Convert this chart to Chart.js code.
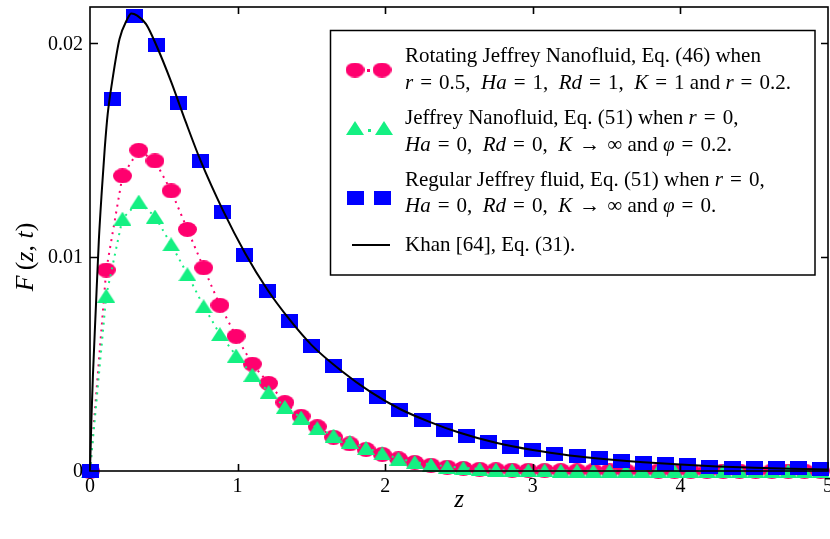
<!DOCTYPE html>
<html>
<head>
<meta charset="utf-8">
<script src="https://cdn.jsdelivr.net/npm/chart.js@4.4.1/dist/chart.umd.min.js"></script>
<style>
  html, body { margin: 0; padding: 0; background: #fff; }
  #wrap { width: 830px; height: 539px; position: relative; }
</style>
</head>
<body>
<div id="wrap"><canvas id="chart" width="830" height="539"></canvas></div>
<script>
// Values
const zNano = [0, 0.11, 0.22, 0.33, 0.44, 0.55, 0.66, 0.77, 0.88, 0.99, 1.1, 1.21, 1.32, 1.43, 1.54, 1.65,
    1.76, 1.87, 1.98, 2.09, 2.2, 2.31, 2.42, 2.53, 2.64, 2.75, 2.86, 2.97, 3.08, 3.19, 3.3, 3.41,
    3.52, 3.63, 3.74, 3.85, 3.96, 4.07, 4.18, 4.29, 4.4, 4.51, 4.62, 4.73, 4.84, 4.95];

const rotatingJeffrey = [0, 0.0094, 0.0138, 0.0150, 0.0145, 0.0131, 0.0113, 0.0095, 0.00775, 0.0063, 0.0050,
    0.0041, 0.0032, 0.00256, 0.00207, 0.00158, 0.00127, 0.00101, 0.00078, 0.00057, 0.0004, 0.00027,
    0.00018, 0.00012, 0.00008, 0.00006, 0.00004, 0.00003, 0.00002, 0.00002, 0.00001, 0.00001, 0.00001,
    0.00001, 0.00001, 0, 0, 0, 0, 0, 0, 0, 0, 0, 0, 0];

const jeffreyNano = [0, 0.0082, 0.0118, 0.0126, 0.0119, 0.0106, 0.0092, 0.0077, 0.0064, 0.0054, 0.0045,
    0.0037, 0.0030, 0.0025, 0.0020, 0.00166, 0.00137, 0.00108, 0.00082, 0.00058, 0.00042, 0.0003,
    0.00021, 0.00015, 0.0001, 0.00007, 0.00005, 0.00004, 0.00003, 0.00002, 0.00002, 0.00001, 0.00001,
    0.00001, 0.00001, 0.00001, 0, 0, 0, 0, 0, 0, 0, 0, 0, 0];

const zRegular = [0, 0.15, 0.3, 0.45, 0.6, 0.75, 0.9, 1.05, 1.2, 1.35, 1.5, 1.65, 1.8, 1.95, 2.1, 2.25,
    2.4, 2.55, 2.7, 2.85, 3.0, 3.15, 3.3, 3.45, 3.6, 3.75, 3.9, 4.05, 4.2, 4.35, 4.5, 4.65, 4.8, 4.95];

const regularJeffrey = [0, 0.0174, 0.0213, 0.0199, 0.0172, 0.0145, 0.0121, 0.0101, 0.0084, 0.0070, 0.00585,
    0.0049, 0.0040, 0.00345, 0.00285, 0.00237, 0.00194, 0.00163, 0.00135, 0.00112, 0.00096, 0.0008,
    0.0007, 0.00059, 0.00047, 0.00039, 0.00031, 0.00028, 0.0002, 0.00016, 0.00016, 0.00014, 0.00013, 0.00008];

const zKhan = [0, 0.01, 0.02, 0.04, 0.06, 0.08, 0.1, 0.12, 0.15, 0.2, 0.25, 0.28, 0.32, 0.38, 0.45, 0.55,
    0.65, 0.75, 0.9, 1.05, 1.2, 1.35, 1.5, 1.7, 1.9, 2.1, 2.3, 2.5, 2.75, 3.0, 3.25, 3.5, 3.75, 4.0,
    4.25, 4.5, 4.75, 5.0];

const khan = [0, 0.0025, 0.0045, 0.0077, 0.0108, 0.0131, 0.0151, 0.0167, 0.0182, 0.0202, 0.0211, 0.0214,
    0.0213, 0.0209, 0.0199, 0.0182, 0.0163, 0.0145, 0.0122, 0.0102, 0.0085, 0.0071, 0.0059, 0.0047,
    0.0037, 0.0029, 0.0023, 0.0018, 0.00132, 0.00098, 0.00073, 0.00055, 0.00041, 0.0003, 0.00021,
    0.00015, 0.0001, 0.00007];

const xTicks = [0, 1, 2, 3, 4, 5];
const xTickLabels = ['0', '1', '2', '3', '4', '5'];
const yTicks = [0, 0.01, 0.02];
const yTickLabels = ['0', '0.01', '0.02'];

// legend text, [text, italic] pieces per row (slightly wider spaces in the math parts)
const EQ = '\u2004=\u2004';
const CM = ',\u2002';
const legendRows = [
    [['Rotating Jeffrey Nanofluid, Eq. (46) when', false]],
    [['r', true], [EQ + '0.5' + CM, false], ['Ha', true], [EQ + '1' + CM, false], ['Rd', true], [EQ + '1' + CM, false],
     ['K', true], [EQ + '1 and ', false], ['r', true], [EQ + '0.2.', false]],
    [['Jeffrey Nanofluid, Eq. (51) when ', false], ['r', true], [EQ + '0,', false]],
    [['Ha', true], [EQ + '0' + CM, false], ['Rd', true], [EQ + '0' + CM, false], ['K', true], ['\u2004\u2192\u2004\u221E and ', false],
     ['\u03C6', true], [EQ + '0.2.', false]],
    [['Regular Jeffrey fluid, Eq. (51) when ', false], ['r', true], [EQ + '0,', false]],
    [['Ha', true], [EQ + '0' + CM, false], ['Rd', true], [EQ + '0' + CM, false], ['K', true], ['\u2004\u2192\u2004\u221E and ', false],
     ['\u03C6', true], [EQ + '0.', false]],
    [['Khan [64], Eq. (31).', false]]
];

const PINK = 'rgb(255, 0, 110)';
const GREEN = 'rgb(20, 240, 130)';
const BLUE = 'rgb(0, 0, 255)';
const FONT = '"Liberation Serif", "DejaVu Serif", serif';

function makeMarker(kind, w, h, color) {
    const c = document.createElement('canvas');
    c.width = w;
    c.height = h;
    const g = c.getContext('2d');
    g.fillStyle = color;
    g.beginPath();
    if (kind === 'ellipse') {
        g.ellipse(w / 2, h / 2, w / 2, h / 2, 0, 0, Math.PI * 2);
    } else if (kind === 'triangle') {
        g.moveTo(w / 2, 0);
        g.lineTo(w, h);
        g.lineTo(0, h);
        g.closePath();
    } else {
        g.rect(0, 0, w, h);
    }
    g.fill();
    return c;
}

const ellipseImg = makeMarker('ellipse', 19, 15, PINK);
const triangleImg = makeMarker('triangle', 18, 14, GREEN);
const squareImg = makeMarker('rect', 17, 14, BLUE);

function pairs(xs, ys) {
    return xs.map((x, i) => ({ x: x, y: ys[i] }));
}

function drawRich(ctx, segs, x, y, size) {
    let cx = x;
    segs.forEach(([t, it]) => {
        ctx.font = (it ? 'italic ' : '') + size + 'px ' + FONT;
        ctx.fillText(t, cx, y);
        cx += ctx.measureText(t).width;
    });
    return cx - x;
}

function richWidth(ctx, segs, size) {
    let w = 0;
    segs.forEach(([t, it]) => {
        ctx.font = (it ? 'italic ' : '') + size + 'px ' + FONT;
        w += ctx.measureText(t).width;
    });
    return w;
}

// frame, inward ticks, tick labels, axis titles and legend box
const decorations = {
    id: 'decorations',
    afterDraw(chart) {
        const ctx = chart.ctx;
        const a = chart.chartArea;
        const xs = chart.scales.x;
        const ys = chart.scales.y;
        ctx.save();
        ctx.strokeStyle = '#000';
        ctx.lineWidth = 1.6;
        ctx.strokeRect(a.left, a.top, a.right - a.left, a.bottom - a.top);

        ctx.beginPath();
        xTicks.slice(1, -1).forEach(v => {
            const px = Math.round(xs.getPixelForValue(v)) + 0.5;
            ctx.moveTo(px, a.bottom);
            ctx.lineTo(px, a.bottom - 7);
            ctx.moveTo(px, a.top);
            ctx.lineTo(px, a.top + 7);
        });
        yTicks.slice(1).forEach(v => {
            const py = Math.round(ys.getPixelForValue(v)) + 0.5;
            ctx.moveTo(a.left, py);
            ctx.lineTo(a.left + 8, py);
            ctx.moveTo(a.right, py);
            ctx.lineTo(a.right - 7, py);
        });
        ctx.stroke();

        // tick labels
        ctx.fillStyle = '#000';
        ctx.font = '20px ' + FONT;
        ctx.textBaseline = 'middle';
        ctx.textAlign = 'center';
        xTicks.forEach((v, i) => ctx.fillText(xTickLabels[i], xs.getPixelForValue(v), a.bottom + 16));
        ctx.textAlign = 'right';
        yTicks.forEach((v, i) => ctx.fillText(yTickLabels[i], a.left - 7, ys.getPixelForValue(v) + 1));

        // axis titles
        ctx.textAlign = 'left';
        const xTitle = [['z', true]];
        drawRich(ctx, xTitle, (a.left + a.right) / 2 - richWidth(ctx, xTitle, 25) / 2, 500, 25);

        const yTitle = [['F', true], ['\u2009(', false], ['z', true], [', ', false], ['t', true], [')', false]];
        ctx.save();
        ctx.translate(26, 257);
        ctx.rotate(-Math.PI / 2);
        drawRich(ctx, yTitle, -richWidth(ctx, yTitle, 26) / 2, 0, 26);
        ctx.restore();

        // legend
        ctx.fillStyle = '#fff';
        ctx.fillRect(330.5, 30.5, 484.5, 244.5);
        ctx.lineWidth = 1.5;
        ctx.strokeRect(330.5, 30.5, 484.5, 244.5);

        ctx.drawImage(ellipseImg, 355 - 9.5, 70 - 7.5);
        ctx.drawImage(ellipseImg, 382 - 9.5, 70 - 7.5);
        ctx.drawImage(triangleImg, 355 - 9, 128 - 7);
        ctx.drawImage(triangleImg, 384 - 9, 128 - 7);
        ctx.drawImage(squareImg, 355 - 8.5, 198 - 7);
        ctx.drawImage(squareImg, 382 - 8.5, 198 - 7);
        ctx.fillStyle = PINK;
        ctx.fillRect(367, 69, 3, 3);
        ctx.fillStyle = GREEN;
        ctx.fillRect(368, 129, 3, 3);
        ctx.strokeStyle = '#000';
        ctx.lineWidth = 2;
        ctx.beginPath();
        ctx.moveTo(352, 245);
        ctx.lineTo(390, 245);
        ctx.stroke();

        ctx.fillStyle = '#000';
        const rowY = [56.7, 83.3, 118.3, 145, 180, 206.7, 245];
        legendRows.forEach((segs, i) => drawRich(ctx, segs, 405, rowY[i], 21));
        ctx.restore();
    }
};

Chart.defaults.font.family = FONT;
Chart.defaults.color = '#000';

new Chart(document.getElementById('chart'), {
    type: 'line',
    data: {
        datasets: [
            {
                label: 'Khan [64], Eq. (31).',
                data: pairs(zKhan, khan),
                borderColor: '#000',
                borderWidth: 2,
                pointRadius: 0,
                cubicInterpolationMode: 'monotone',
                clip: false,
                order: 0
            },
            {
                label: 'Regular Jeffrey fluid, Eq. (51)',
                data: pairs(zRegular, regularJeffrey),
                showLine: false,
                pointStyle: squareImg,
                pointRadius: 9,
                clip: false,
                order: 1
            },
            {
                label: 'Jeffrey Nanofluid, Eq. (51)',
                data: pairs(zNano, jeffreyNano),
                borderColor: GREEN,
                borderWidth: 2,
                borderDash: [2, 5],
                pointStyle: triangleImg,
                pointRadius: 9,
                clip: false,
                order: 2
            },
            {
                label: 'Rotating Jeffrey Nanofluid, Eq. (46)',
                data: pairs(zNano, rotatingJeffrey),
                borderColor: PINK,
                borderWidth: 2,
                borderDash: [2, 5],
                pointStyle: ellipseImg,
                pointRadius: 9,
                clip: false,
                order: 3
            }
        ]
    },
    options: {
        responsive: false,
        devicePixelRatio: 1,
        animation: false,
        layout: { autoPadding: false, padding: { top: 7, right: 2, left: 0, bottom: 0 } },
        plugins: {
            legend: { display: false },
            tooltip: { enabled: false }
        },
        scales: {
            x: {
                type: 'linear',
                min: 0,
                max: 5,
                afterBuildTicks: s => { s.ticks = xTicks.map(v => ({ value: v })); },
                afterFit: s => { s.height = 68; },
                grid: { display: false, drawTicks: false },
                border: { display: false },
                ticks: { display: false }
            },
            y: {
                type: 'linear',
                min: 0,
                max: 0.0217,
                afterBuildTicks: s => { s.ticks = yTicks.map(v => ({ value: v })); },
                afterFit: s => { s.width = 90; },
                grid: { display: false, drawTicks: false },
                border: { display: false },
                ticks: { display: false }
            }
        }
    },
    plugins: [decorations]
});
</script>
</body>
</html>
